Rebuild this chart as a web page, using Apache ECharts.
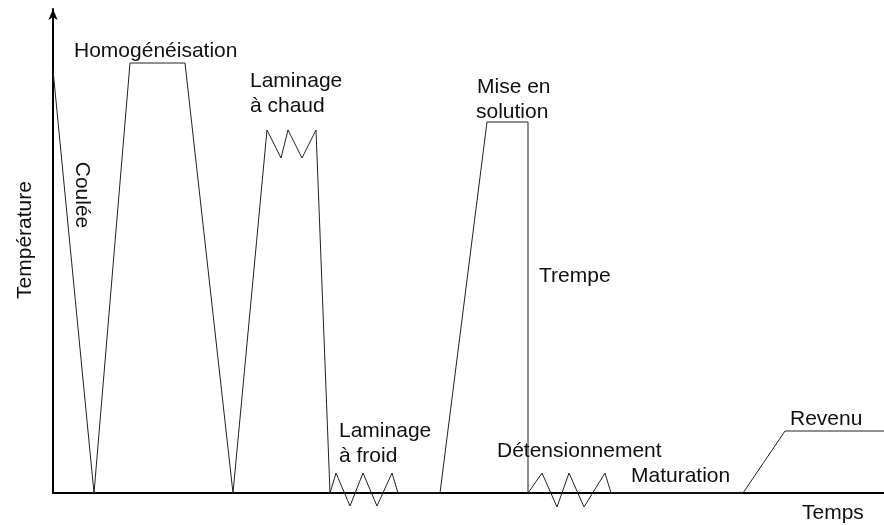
<!DOCTYPE html>
<html>
<head>
<meta charset="utf-8">
<script src="https://cdn.jsdelivr.net/npm/echarts@6/dist/echarts.min.js"></script>
<style>html,body{margin:0;padding:0;background:#fff;}#c{width:884px;height:525px;}</style>
</head>
<body>
<div id="c"></div>
<script>
// Time (arbitrary units) and temperature (arbitrary units) of the thermal route
var times = [0, 41, 77, 132, 180, 214, 228, 235, 249, 263, 277, 283, 297, 310, 324, 339, 345, 387, 434, 475, 475, 489, 504, 516, 531, 552, 558, 690, 732, 831];
var temps = [423, 0, 430, 430, 0, 363, 335, 363, 335, 363, 0, 20, -13, 20, -13, 20, 0, 0, 371, 371, 0, 20, -14, 20, -14, 20, 0, 0, 62, 62];
var axisTitles = ['Température', 'Temps'];
var stepLabels = ['Homogénéisation', 'Laminage', 'à chaud', 'Coulée', 'Laminage', 'à froid', 'Mise en', 'solution', 'Trempe', 'Détensionnement', 'Maturation', 'Revenu'];

var pts = times.map(function (t, i) { return [t, temps[i]]; });
var FONT = '21px "Liberation Sans", Arial, sans-serif';
function txt(s, x, y, rot) {
  return {
    type: 'text', x: x, y: y, rotation: rot || 0, z: 10,
    style: { text: s, font: FONT, fill: '#111', textAlign: rot ? 'center' : 'left', textVerticalAlign: 'middle' }
  };
}
var chart = echarts.init(document.getElementById('c'), null, { renderer: 'canvas' });
chart.setOption({
  backgroundColor: '#fff',
  animation: false,
  grid: { left: 53, right: 0, top: 9, bottom: 32 },
  xAxis: {
    type: 'value', min: 0, max: 831,
    axisLine: { lineStyle: { color: '#000', width: 2 } },
    axisTick: { show: false }, axisLabel: { show: false }, splitLine: { show: false }
  },
  yAxis: {
    type: 'value', min: 0, max: 484,
    axisLine: { show: true, symbol: ['none', 'arrow'], symbolSize: [7, 11], lineStyle: { color: '#000', width: 2 } },
    axisTick: { show: false }, axisLabel: { show: false }, splitLine: { show: false }
  },
  series: [{
    type: 'line', data: pts, clip: false, symbol: 'none',
    lineStyle: { color: '#222', width: 1 }
  }],
  graphic: [
    txt(axisTitles[0], 25, 240, Math.PI / 2),
    txt(axisTitles[1], 802, 513),
    txt(stepLabels[0], 74, 51),
    txt(stepLabels[1], 250, 81),
    txt(stepLabels[2], 250, 106),
    txt(stepLabels[3], 82, 195, -Math.PI / 2),
    txt(stepLabels[4], 339, 431),
    txt(stepLabels[5], 339, 456),
    txt(stepLabels[6], 477, 87),
    txt(stepLabels[7], 476, 112),
    txt(stepLabels[8], 539, 276),
    txt(stepLabels[9], 497, 451),
    txt(stepLabels[10], 631, 476),
    txt(stepLabels[11], 790, 419)
  ]
});
</script>
</body>
</html>
